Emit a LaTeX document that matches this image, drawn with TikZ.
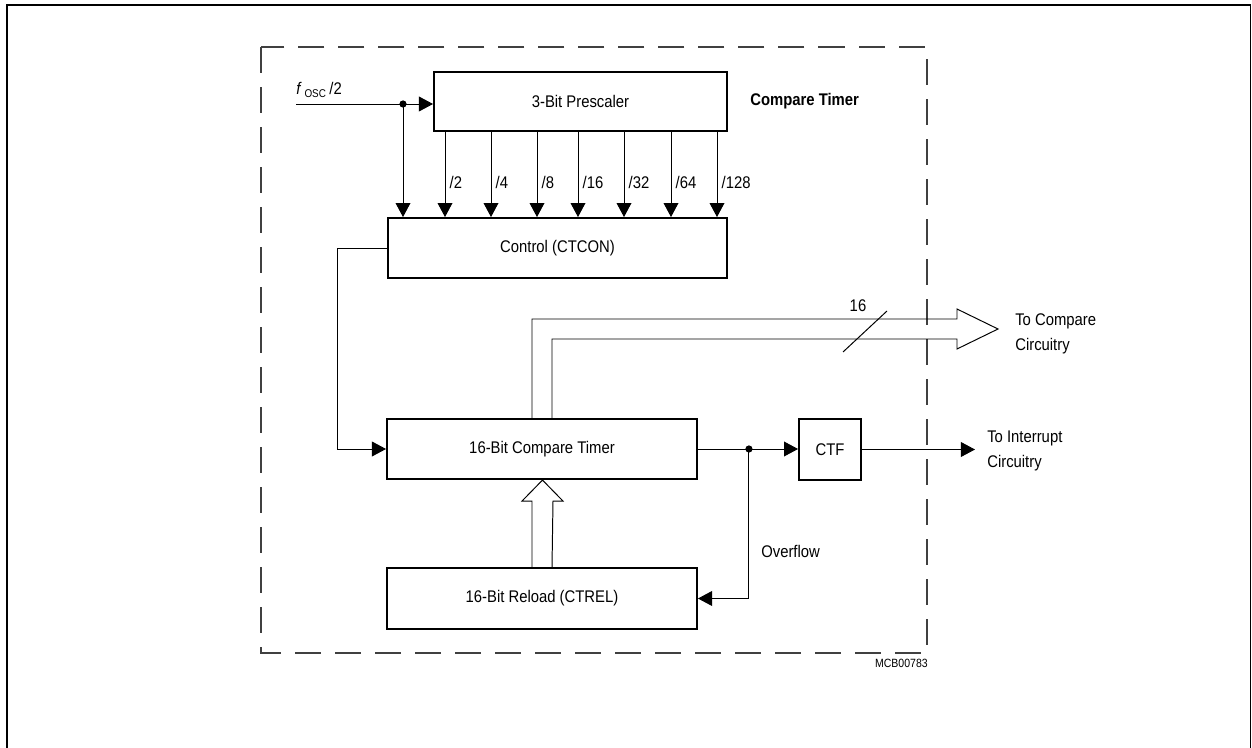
\documentclass[tikz,border=0pt]{standalone}
\usepackage{fontspec}
\setmainfont{Liberation Sans}[FakeStretch=0.88]
\usetikzlibrary{arrows.meta,calc}

\tikzset{blk/.style = {shape = rectangle,
                       draw,
                       line width = 1.3pt,
                       inner sep = 0pt,
                       font = \fontsize{12}{14}\selectfont},
         sig/.style = {line width = 0.7pt,
                       -{Triangle[width=10.5pt,length=10pt]}},
         lbl/.style = {font = \fontsize{12}{17.8}\selectfont,
                       inner sep = 0pt}}

\begin{document}
\begin{tikzpicture}[x=0.025cm, y=-0.025cm]
		\useasboundingbox (0,0) rectangle (1252,748);
		% frame and dashed outline
		\draw[line width=0.9pt] (7,760) -- (7,5) -- (1250.5,5) -- (1250.5,760);
		\draw[black!75, line width=0.9pt, dash pattern=on 0.65cm off 0.35cm] (261,47) rectangle (927,653);

		\node[blk, minimum width=7.325cm, minimum height=1.475cm] (pre) at (580.5,101.5) {3-Bit Prescaler};
		\node[blk, minimum width=8.475cm, minimum height=1.5cm] (ctl) at (557.5,248) {Control (CTCON)};
		\node[blk, minimum width=7.75cm, minimum height=1.5cm] (cmp) at (542,449) {16-Bit Compare Timer};
		\node[blk, minimum width=7.75cm, minimum height=1.525cm] (rel) at (542,598.5) {16-Bit Reload (CTREL)};
		\node[blk, minimum width=1.55cm, minimum height=1.525cm] (ctf) at (830,449.5) {CTF};

		\node[lbl, anchor=west, font=\fontsize{12}{14}\selectfont\bfseries] (ttl) at (750,101) {Compare Timer};
		\node[lbl, anchor=base west] (fosc) at (296,95) {\textit{f}\,\textsubscript{OSC}\,/2};
		\node[lbl, anchor=west, align=left, inner xsep=0.425cm] (cmpc) at (998,334) {To Compare\\Circuitry};
		\node[lbl, anchor=west, align=left, inner xsep=0.3cm] (intr) at (975,451) {To Interrupt\\Circuitry};
		\node[lbl, anchor=west] (ovf) at (761,551) {Overflow};
		\node[lbl] (w16) at (858,306) {16};
		\node[lbl, anchor=east, font=\fontsize{8.5}{10}\selectfont] (mcb) at (928,663) {MCB00783};

		\coordinate (fin) at (296,104);
		\coordinate (j1) at (403,104);
		\coordinate (j2) at ($(cmp.east)+(51,0)$);
		\coordinate (busend) at (957,329);

		% clock input
		\draw[sig] (fin) -- (fin -| pre.west);
		\draw[sig] (j1) -- (j1 |- ctl.north);
		\fill (j1) circle[radius=0.09cm];

		% prescaler outputs
		\foreach \x/\d in {445/2,491/4,537/8,578/16,624/32,671/64,717/128}
			\draw[sig] (\x,0 |- pre.south) -- (\x,0 |- ctl.north)
				node[lbl, pos=0.59, anchor=west, xshift=3pt] {/\d};

		\draw[sig] (ctl.west) -- ++(-50,0) |- (cmp.west);
		\draw[sig] (cmp.east) -- (cmp.east -| ctf.west);
		\fill (j2) circle[radius=0.09cm];
		\draw[sig] (j2) |- (rel.east);
		\draw[sig] (ctf.east) -- (ctf.east -| intr.west);

		% 16 bit buses
		\draw[line width=0.7pt] ([xshift=-0.25cm]cmp.north) |- ($(busend)+(0,-10)$) -- ++(0,-10)
			-- ++(41,20) -- ++(-41,20) -- ++(0,-10) -| ([xshift=0.25cm]cmp.north);
		\draw[line width=0.7pt] (843,352) -- (887,311);
		\draw[line width=0.7pt] ([xshift=-0.25cm]rel.north) -- ++(0,-66) -- ++(-10,0) -- ++(20.5,-21)
			-- ++(20.5,21) -- ++(-10,0) -- ([xshift=0.25cm]rel.north);
	\end{tikzpicture}
\end{document}
